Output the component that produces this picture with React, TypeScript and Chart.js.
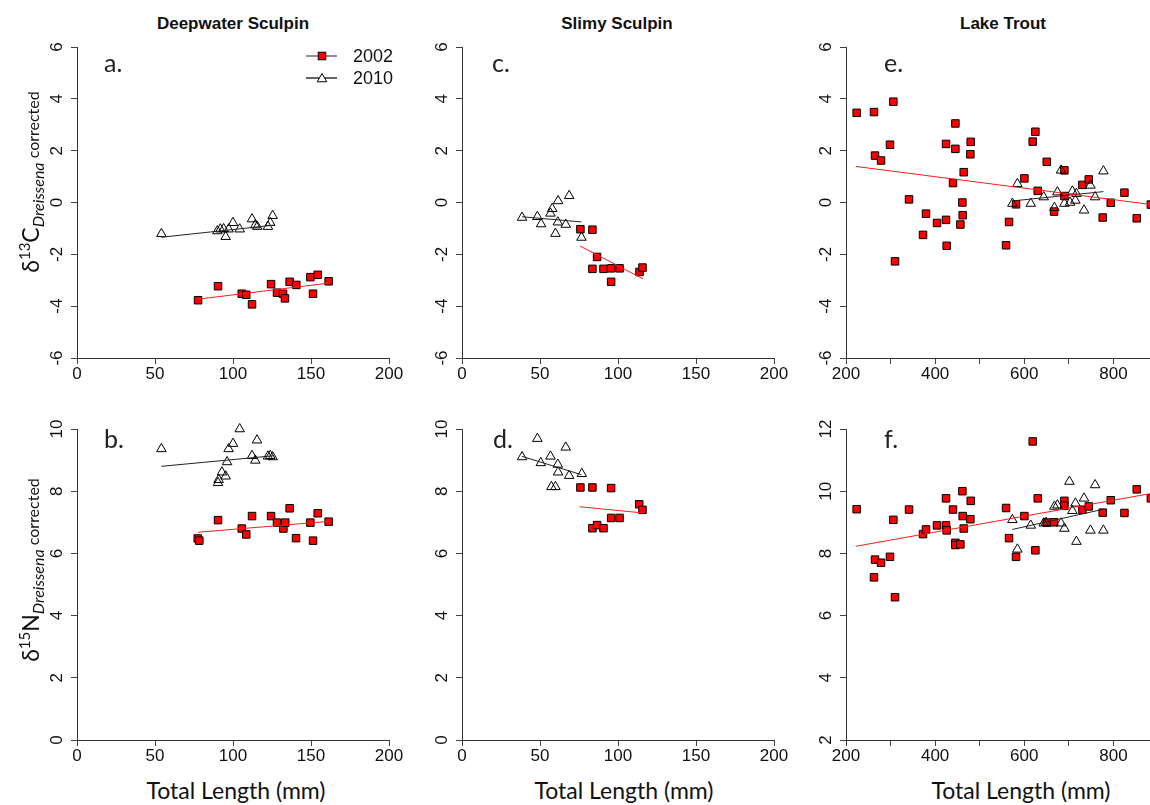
import React, { useEffect, useRef } from 'react';
import { Chart, registerables } from 'chart.js';

Chart.register(...registerables);

// ---------- Data ----------
// Panel a: Deepwater Sculpin, d13C
const dwsCLen2002 = [77.6, 90.4, 105.6, 108.5, 112.2, 124.4, 128.2, 132.1, 133.3, 136.3, 140.6, 149.6, 151.3, 154.3, 161.3];
const dwsC2002 = [-3.77, -3.23, -3.52, -3.56, -3.93, -3.15, -3.48, -3.52, -3.7, -3.06, -3.18, -2.88, -3.52, -2.79, -3.04];
const dwsCLen2010 = [54.1, 90.0, 91.9, 94.0, 95.3, 97.2, 100.0, 104.3, 112.2, 114.3, 115.6, 122.4, 123.9, 125.4];
const dwsC2010 = [-1.21, -1.1, -1.03, -1.02, -1.32, -1.03, -0.78, -1.03, -0.64, -0.87, -0.93, -0.93, -0.78, -0.51];
const dwsCFit2002X = [77.6, 161.3];
const dwsCFit2002Y = [-3.73, -3.11];
const dwsCFit2010X = [54.1, 126.7];
const dwsCFit2010Y = [-1.34, -0.87];

// Panel b: Deepwater Sculpin, d15N
const dwsNLen2002 = [77.4, 78.4, 90.4, 105.6, 108.5, 112.2, 124.4, 128.2, 132.3, 133.5, 136.3, 140.4, 149.6, 151.3, 154.3, 161.3];
const dwsN2002 = [6.48, 6.41, 7.07, 6.8, 6.61, 7.2, 7.2, 6.99, 6.8, 6.99, 7.45, 6.49, 6.99, 6.41, 7.29, 7.02];
const dwsNLen2010 = [54.1, 90.4, 90.8, 92.9, 95.3, 97.2, 96.2, 100.0, 104.3, 112.2, 114.3, 115.4, 122.4, 123.9, 125.4];
const dwsN2010 = [9.36, 8.27, 8.37, 8.61, 8.48, 9.36, 8.94, 9.53, 10.0, 9.14, 8.99, 9.64, 9.12, 9.14, 9.1];
const dwsNFit2002X = [77.6, 161.3];
const dwsNFit2002Y = [6.68, 7.03];
const dwsNFit2010X = [54.1, 126.1];
const dwsNFit2010Y = [8.8, 9.14];

// Panel c: Slimy Sculpin, d13C
const ssCLen2002 = [75.9, 83.6, 86.6, 83.6, 90.7, 95.6, 95.6, 101.0, 113.8, 115.7];
const ssC2002 = [-1.03, -1.05, -2.1, -2.56, -2.56, -2.54, -3.06, -2.54, -2.68, -2.51];
const ssCLen2010 = [38.5, 48.3, 50.7, 56.7, 57.8, 59.9, 61.4, 61.6, 66.5, 68.7, 76.6];
const ssC2010 = [-0.58, -0.55, -0.83, -0.42, -0.24, -1.2, -0.76, 0.06, -0.85, 0.26, -1.35];
const ssCFit2002X = [75.7, 116.1];
const ssCFit2002Y = [-1.68, -2.95];
const ssCFit2010X = [38.5, 76.6];
const ssCFit2010Y = [-0.55, -0.75];

// Panel d: Slimy Sculpin, d15N
const ssNLen2002 = [75.9, 83.6, 95.6, 113.6, 115.7, 95.6, 101.0, 83.6, 86.6, 90.7];
const ssN2002 = [8.12, 8.12, 8.1, 7.58, 7.4, 7.14, 7.14, 6.81, 6.91, 6.81];
const ssNLen2010 = [38.5, 48.3, 50.5, 56.7, 57.3, 59.9, 61.4, 61.6, 66.5, 68.7, 76.8];
const ssN2010 = [9.1, 9.69, 8.91, 9.12, 8.14, 8.14, 8.86, 8.61, 9.41, 8.5, 8.56];
const ssNFit2002X = [75.5, 116.1];
const ssNFit2002Y = [7.5, 7.3];
const ssNFit2010X = [38.5, 76.6];
const ssNFit2010Y = [9.12, 8.53];

// Panel e: Lake Trout, d13C
const ltLen2002 = [223.9, 262.8, 265.1, 278.6, 298.7, 306.2, 310.0, 341.4, 372.8, 379.5, 404.2, 424.4, 424.4, 425.9, 440.1, 445.4, 445.4, 456.6, 461.1, 461.8, 464.1, 479.0, 479.8, 559.1, 565.8, 581.5, 600.2, 618.9, 624.9, 630.2, 650.4, 666.8, 690.0, 690.0, 730.4, 744.6, 776.0, 794.0, 824.7, 852.3, 884.0];
const ltC2002 = [3.46, 3.49, 1.81, 1.62, 2.23, 3.89, -2.27, 0.12, -1.25, -0.43, -0.79, 2.26, -0.67, -1.67, 0.75, 3.05, 2.07, -0.85, 0.0, -0.49, 1.17, 1.86, 2.34, -1.65, -0.75, -0.07, 0.93, 2.35, 2.73, 0.45, 1.57, -0.35, 1.24, 0.25, 0.68, 0.89, -0.58, -0.01, 0.38, -0.61, -0.08];
const ltCLen2010 = [573.3, 584.5, 614.5, 643.6, 667.6, 674.3, 682.5, 690.0, 702.7, 707.9, 714.7, 716.9, 734.1, 748.4, 758.8, 777.5];
const ltC2010 = [-0.04, 0.72, -0.04, 0.21, -0.2, 0.4, 1.24, -0.04, 0.0, 0.43, 0.08, 0.34, -0.3, 0.66, 0.21, 1.21];
const ltCFit2002X = [222.4, 890];
const ltCFit2002Y = [1.39, -0.09];
const ltCFit2010X = [573.3, 777.5];
const ltCFit2010Y = [0.06, 0.42];

// Panel f: Lake Trout, d15N
const ltN2002 = [9.42, 7.23, 7.8, 7.7, 7.89, 9.08, 6.59, 9.41, 8.62, 8.77, 8.9, 9.77, 8.9, 8.74, 9.41, 8.34, 8.27, 8.29, 10.0, 9.2, 8.8, 9.1, 9.69, 9.46, 8.49, 7.89, 9.2, 11.6, 8.1, 9.77, 8.99, 9.0, 9.69, 9.53, 9.4, 9.51, 9.31, 9.71, 9.3, 10.06, 9.77];
const ltNLen2010 = [573.3, 584.5, 614.5, 643.6, 648.9, 667.6, 674.3, 682.5, 690.0, 701.2, 707.9, 714.7, 716.9, 734.1, 748.4, 758.8, 777.5];
const ltN2010 = [9.08, 8.13, 8.9, 8.97, 8.99, 9.51, 9.55, 8.97, 8.8, 10.31, 9.37, 9.61, 8.38, 9.77, 8.74, 10.2, 8.74];
const ltNFit2002X = [222.4, 890];
const ltNFit2002Y = [8.23, 9.94];
const ltNFit2010X = [573.3, 777.5];
const ltNFit2010Y = [8.77, 9.42];

// Axis ranges / tick steps
const smallFishX = [0, 200, 50];
const troutX = [200, 900, 100];
const carbonY = [-6, 6, 2];
const nitroSculpinY = [0, 10, 2];
const nitroTroutY = [2, 12, 2];

const speciesTitles = ['Deepwater Sculpin', 'Slimy Sculpin', 'Lake Trout'];
const panelLetters = ['a.', 'b.', 'c.', 'd.', 'e.', 'f.'];
const legendYears = ['2002', '2010'];

// ---------- Layout ----------
const PAD_L = 60;
const PAD_T = 10;
const PAD_R = 25;
const PAD_B = 30;
const AREA_W = 312;
const AREA_H = 311;
const TICK_FONT = '17px "Liberation Sans", Arial, sans-serif';

type PanelSpec = {
  left: number;
  top: number;
  x: number[];
  y: number[];
  everyOther: boolean;
  x2002: number[];
  y2002: number[];
  x2010: number[];
  y2010: number[];
  fx2002: number[];
  fy2002: number[];
  fx2010: number[];
  fy2010: number[];
  legend?: boolean;
};

const panels: PanelSpec[] = [
  { left: 77, top: 47, x: smallFishX, y: carbonY, everyOther: false, x2002: dwsCLen2002, y2002: dwsC2002, x2010: dwsCLen2010, y2010: dwsC2010, fx2002: dwsCFit2002X, fy2002: dwsCFit2002Y, fx2010: dwsCFit2010X, fy2010: dwsCFit2010Y, legend: true },
  { left: 77, top: 429, x: smallFishX, y: nitroSculpinY, everyOther: false, x2002: dwsNLen2002, y2002: dwsN2002, x2010: dwsNLen2010, y2010: dwsN2010, fx2002: dwsNFit2002X, fy2002: dwsNFit2002Y, fx2010: dwsNFit2010X, fy2010: dwsNFit2010Y },
  { left: 462, top: 47, x: smallFishX, y: carbonY, everyOther: false, x2002: ssCLen2002, y2002: ssC2002, x2010: ssCLen2010, y2010: ssC2010, fx2002: ssCFit2002X, fy2002: ssCFit2002Y, fx2010: ssCFit2010X, fy2010: ssCFit2010Y },
  { left: 462, top: 429, x: smallFishX, y: nitroSculpinY, everyOther: false, x2002: ssNLen2002, y2002: ssN2002, x2010: ssNLen2010, y2010: ssN2010, fx2002: ssNFit2002X, fy2002: ssNFit2002Y, fx2010: ssNFit2010X, fy2010: ssNFit2010Y },
  { left: 846, top: 47, x: troutX, y: carbonY, everyOther: true, x2002: ltLen2002, y2002: ltC2002, x2010: ltCLen2010, y2010: ltC2010, fx2002: ltCFit2002X, fy2002: ltCFit2002Y, fx2010: ltCFit2010X, fy2010: ltCFit2010Y },
  { left: 846, top: 429, x: troutX, y: nitroTroutY, everyOther: true, x2002: ltLen2002, y2002: ltN2002, x2010: ltNLen2010, y2010: ltN2010, fx2002: ltNFit2002X, fy2002: ltNFit2002Y, fx2010: ltNFit2010X, fy2010: ltNFit2010Y },
];

// ---------- Plugins ----------
const rotatedYTicks = {
  id: 'rotatedYTicks',
  afterDraw(chart: any) {
    const s = chart.scales.y;
    const ctx = chart.ctx;
    ctx.save();
    ctx.font = TICK_FONT;
    ctx.fillStyle = '#111';
    ctx.textAlign = 'center';
    ctx.textBaseline = 'middle';
    s.ticks.forEach((t: any, i: number) => {
      const py = s.getPixelForTick(i);
      ctx.save();
      ctx.translate(s.right - 20, py);
      ctx.rotate(-Math.PI / 2);
      ctx.fillText(String(t.label), 0, 0);
      ctx.restore();
    });
    ctx.restore();
  },
};

function drawSquare(ctx: CanvasRenderingContext2D, x: number, y: number) {
  ctx.fillStyle = '#ff0000';
  ctx.strokeStyle = '#000';
  ctx.lineWidth = 1;
  ctx.fillRect(x - 3.75, y - 3.75, 7.5, 7.5);
  ctx.strokeRect(x - 3.75, y - 3.75, 7.5, 7.5);
}

function drawTriangle(ctx: CanvasRenderingContext2D, x: number, y: number) {
  const r = 5.5;
  ctx.beginPath();
  ctx.moveTo(x, y - r);
  ctx.lineTo(x + r * 0.866, y + r / 2);
  ctx.lineTo(x - r * 0.866, y + r / 2);
  ctx.closePath();
  ctx.fillStyle = '#fff';
  ctx.fill();
  ctx.strokeStyle = '#000';
  ctx.lineWidth = 1;
  ctx.stroke();
}

const yearLegend = {
  id: 'yearLegend',
  afterDraw(chart: any) {
    const { ctx, chartArea } = chart;
    const x0 = chartArea.right - 83;
    const x1 = chartArea.right - 52;
    const xm = chartArea.right - 67;
    const xt = chartArea.right - 36;
    const rows = [chartArea.top + 9, chartArea.top + 31];
    ctx.save();
    rows.forEach((ry: number, i: number) => {
      ctx.beginPath();
      ctx.moveTo(x0, ry);
      ctx.lineTo(x1, ry);
      ctx.strokeStyle = i === 0 ? '#555' : '#111';
      ctx.lineWidth = 1.3;
      ctx.stroke();
      if (i === 0) drawSquare(ctx, xm, ry);
      else drawTriangle(ctx, xm, ry + 1);
      ctx.fillStyle = '#111';
      ctx.font = '18px "Liberation Sans", Arial, sans-serif';
      ctx.textAlign = 'left';
      ctx.textBaseline = 'middle';
      ctx.fillText(legendYears[i], xt, ry + 1);
    });
    ctx.restore();
  },
};

const pts = (xs: number[], ys: number[]) => xs.map((x, i) => ({ x, y: ys[i] }));

function Panel({ p }: { p: PanelSpec }) {
  const ref = useRef<HTMLCanvasElement>(null);
  const W = PAD_L + AREA_W + PAD_R;
  const H = PAD_T + AREA_H + PAD_B;
  useEffect(() => {
    const fixAxis = (isY: boolean) => (s: any) => {
      if (isY) s.width = PAD_L;
      else s.height = PAD_B;
      s.paddingLeft = 0;
      s.paddingRight = 0;
      s.paddingTop = 0;
      s.paddingBottom = 0;
    };
    const chart = new Chart(ref.current as HTMLCanvasElement, {
      type: 'scatter',
      data: {
        datasets: [
          { label: 'fit 2002', data: pts(p.fx2002, p.fy2002), showLine: true, borderColor: '#ff1a1a', borderWidth: 1, pointRadius: 0, order: 0 } as any,
          { label: 'fit 2010', data: pts(p.fx2010, p.fy2010), showLine: true, borderColor: '#222', borderWidth: 1, pointRadius: 0, order: 0 } as any,
          { label: '2010', data: pts(p.x2010, p.y2010), pointStyle: 'triangle', pointRadius: 5.5, backgroundColor: 'rgba(255,255,255,0)', borderColor: '#000', borderWidth: 1, order: 1, clip: false } as any,
          { label: '2002', data: pts(p.x2002, p.y2002), pointStyle: 'rect', pointRadius: 5.3, backgroundColor: '#ff0000', borderColor: '#000', borderWidth: 1, order: 2, clip: false } as any,
        ],
      },
      options: {
        responsive: false,
        animation: false,
        events: [],
        layout: { padding: { left: 0, top: PAD_T, right: PAD_R, bottom: 0 }, autoPadding: false } as any,
        plugins: { legend: { display: false }, tooltip: { enabled: false } },
        scales: {
          x: {
            type: 'linear',
            min: p.x[0],
            max: p.x[1],
            afterFit: fixAxis(false),
            ticks: {
              stepSize: p.x[2],
              autoSkip: false,
              maxRotation: 0,
              padding: 0,
              color: '#111',
              font: { family: '"Liberation Sans", Arial, sans-serif', size: 17 },
              callback: (v: any) => (p.everyOther && Number(v) % 200 !== 0 ? '' : String(v)),
            },
            grid: { drawOnChartArea: false, drawTicks: true, tickLength: 6, color: '#444' },
            border: { display: true, color: '#333', width: 1 },
          } as any,
          y: {
            type: 'linear',
            min: p.y[0],
            max: p.y[1],
            afterFit: fixAxis(true),
            ticks: { stepSize: p.y[2], display: false },
            grid: { drawOnChartArea: false, drawTicks: true, tickLength: 6, color: '#444' },
            border: { display: true, color: '#333', width: 1 },
          } as any,
        },
      },
      plugins: p.legend ? [rotatedYTicks, yearLegend] : [rotatedYTicks],
    } as any);
    return () => chart.destroy();
  }, []);
  return (
    <canvas
      ref={ref}
      width={W}
      height={H}
      style={{ position: 'absolute', left: p.left - PAD_L, top: p.top - PAD_T, width: W, height: H }}
    />
  );
}

const labelFont = 'Lato, "Open Sans", sans-serif';

function YLabel({ cy, iso, el }: { cy: number; iso: string; el: string }) {
  const w = 260;
  const h = 40;
  return (
    <div
      style={{
        position: 'absolute',
        left: 29.5 - w / 2,
        top: cy - h / 2,
        width: w,
        height: h,
        lineHeight: h + 'px',
        textAlign: 'center',
        whiteSpace: 'nowrap',
        transform: 'rotate(-90deg)',
        transformOrigin: 'center center',
        fontFamily: labelFont,
        color: '#111',
      }}
    >
      <span style={{ fontSize: 23 }}>δ</span>
      <sup style={{ fontSize: 15, verticalAlign: 9, lineHeight: 0 }}>{iso}</sup>
      <span style={{ fontSize: 23 }}>{el}</span>
      <sub style={{ fontSize: 16, fontStyle: 'italic', verticalAlign: -5, lineHeight: 0 }}>Dreissena</sub>
      <span style={{ fontSize: 16 }}> corrected</span>
    </div>
  );
}

export default function App() {
  const titleCenters = [233, 617, 1003];
  const letterPos = [
    [104, 50], [104, 426], [492, 50], [493, 426], [884, 50], [884, 426],
  ];
  const xTitleCenters = [236, 624, 1021];
  return (
    <div style={{ position: 'absolute', left: 0, top: 0, width: 1150, height: 805, overflow: 'hidden', background: '#fff' }}>
      {panels.map((p, i) => (
        <Panel key={i} p={p} />
      ))}
      {speciesTitles.map((t, i) => (
        <div
          key={t}
          style={{
            position: 'absolute',
            left: titleCenters[i] - 150,
            top: 14,
            width: 300,
            textAlign: 'center',
            lineHeight: '20px',
            fontFamily: '"Liberation Sans", Arial, sans-serif',
            fontWeight: 'bold',
            fontSize: 17,
            color: '#111',
          }}
        >
          {t}
        </div>
      ))}
      {panelLetters.map((l, i) => (
        <div
          key={l}
          style={{
            position: 'absolute',
            left: letterPos[i][0],
            top: letterPos[i][1],
            lineHeight: '25px',
            fontFamily: labelFont,
            fontSize: 25,
            color: '#222',
          }}
        >
          {l}
        </div>
      ))}
      {xTitleCenters.map((c, i) => (
        <div
          key={i}
          style={{
            position: 'absolute',
            left: c - 150,
            top: 779,
            width: 300,
            textAlign: 'center',
            lineHeight: '23px',
            fontFamily: labelFont,
            fontSize: 23,
            color: '#111',
          }}
        >
          Total Length (mm)
        </div>
      ))}
      <YLabel cy={182} iso="13" el="C" />
      <YLabel cy={570} iso="15" el="N" />
    </div>
  );
}
